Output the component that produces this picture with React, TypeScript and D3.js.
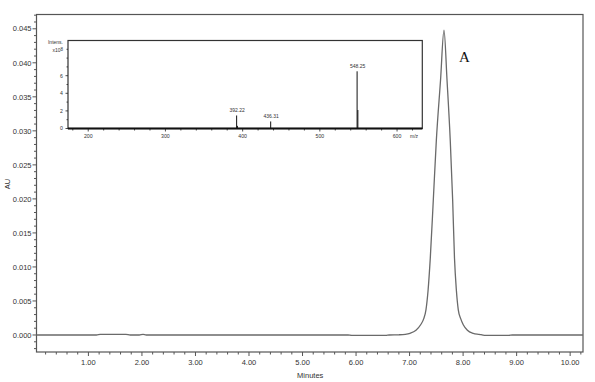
import React from "react";
import * as d3 from "d3";

// Chromatogram (UV trace), time in minutes and absorbance in AU
const chromTime = [0.03, 0.5, 1.15, 1.22, 1.7, 1.78, 1.95, 2.02, 2.08, 3.0, 4.0, 5.0, 5.85, 5.92, 6.55, 6.62, 6.8, 6.92, 7.007, 7.12, 7.207, 7.265, 7.306, 7.345, 7.387, 7.443, 7.5, 7.578, 7.643, 7.7, 7.76, 7.805, 7.839, 7.875, 7.91, 7.955, 8.003, 8.08, 8.19, 8.3, 8.4, 8.85, 8.92, 10.24];
const chromAU = [0.0, 0.0, 0.0, 0.0001, 0.0001, 0.0, 0.0, 0.0001, 0.0, 0.0, 0.0, 0.0, 0.0, -0.00005, -0.00005, 0.0, 0.00003, 0.0001, 0.00025, 0.0007, 0.0015, 0.0024, 0.0037, 0.0065, 0.0113, 0.0198, 0.0286, 0.0374, 0.0448, 0.0374, 0.0286, 0.0198, 0.0113, 0.0065, 0.0037, 0.0024, 0.0015, 0.0007, 0.00025, 0.0001, -0.00005, -0.00005, 0.0, 0.0];

const xTickValues = [1, 2, 3, 4, 5, 6, 7, 8, 9, 10];
const yTickValues = [0, 0.005, 0.01, 0.015, 0.02, 0.025, 0.03, 0.035, 0.04, 0.045];

// Mass spectrum inset (m/z, intensity x10^8)
const mzValues = [392.22, 393.2, 436.31, 548.25, 549.25];
const mzIntensity = [1.48, 0.3, 0.8, 6.5, 2.1];
const mzLabels = ["392.22", "", "436.31", "548.25", ""];
const msXTicks = [200, 300, 400, 500, 600];
const msYTicks = [0, 2, 4, 6];

const peakLabel = "A";

export default function App() {
  const W = 595, H = 382;
  const left = 36.5, right = 583, top = 14.5, bottom = 352;
  const x = d3.scaleLinear().domain([0.03, 10.24]).range([left, right]);
  const y = d3.scaleLinear().domain([-0.0025, 0.0471]).range([bottom, top]);

  const pts: [number, number][] = chromTime.map((t, i) => [t, chromAU[i]]);
  const line = d3.line<[number, number]>().x(d => x(d[0])).y(d => y(d[1])).curve(d3.curveMonotoneX);

  const xMinor = d3.range(0.2, 10.21, 0.2).filter(v => Math.abs(v - Math.round(v)) > 0.01);
  const yMinor = d3.range(-0.002, 0.0471, 0.001).filter(v => yTickValues.every(t => Math.abs(t - v) > 1e-6));

  // inset
  const iL = 68, iR = 422.3, iT = 40.5, iB = 128.5;
  const mx = d3.scaleLinear().domain([173.8, 632.7]).range([iL, iR]);
  const my = d3.scaleLinear().domain([0, 10]).range([iB, iT]);
  const msXMinor = d3.range(180, 631, 20).filter(v => v % 100 !== 0);
  const msYMinor = [1, 3, 5, 7, 8, 9];

  const axisColor = "#555";
  const textColor = "#333";
  const font = "Liberation Sans, Arial, sans-serif";

  return (
    <svg width={W} height={H} style={{ position: "absolute", left: 0, top: 0, background: "#fff" }} fontFamily={font}>
      <rect x={0} y={0} width={W} height={H} fill="#fff" />
      {/* frame */}
      <rect x={left} y={top} width={right - left} height={bottom - top} fill="none" stroke={axisColor} strokeWidth={1.2} />
      {/* x ticks */}
      {xMinor.map(v => (
        <line key={"xm" + v} x1={x(v)} x2={x(v)} y1={bottom} y2={bottom + 2.5} stroke={axisColor} strokeWidth={1} />
      ))}
      {xTickValues.map(v => (
        <g key={"xt" + v}>
          <line x1={x(v)} x2={x(v)} y1={bottom} y2={bottom + 4} stroke={axisColor} strokeWidth={1} />
          <text x={x(v)} y={365} textAnchor="middle" fontSize={7.5} fill={textColor}>{v.toFixed(2)}</text>
        </g>
      ))}
      <text x={(left + right) / 2 + 0.5} y={378} textAnchor="middle" fontSize={7.5} fill={textColor}>Minutes</text>
      {/* y ticks */}
      {yMinor.map(v => (
        <line key={"ym" + v} x1={left - 2.5} x2={left} y1={y(v)} y2={y(v)} stroke={axisColor} strokeWidth={1} />
      ))}
      {yTickValues.map(v => (
        <g key={"yt" + v}>
          <line x1={left - 4} x2={left} y1={y(v)} y2={y(v)} stroke={axisColor} strokeWidth={1} />
          <text x={31.5} y={y(v) + 2.7} textAnchor="end" fontSize={7.5} fill={textColor}>{v.toFixed(3)}</text>
        </g>
      ))}
      <text transform={`translate(10,184) rotate(-90)`} textAnchor="middle" fontSize={7.5} fill={textColor}>AU</text>

      {/* chromatogram */}
      <path d={line(pts) || ""} fill="none" stroke="#6a6a6a" strokeWidth={1.3} />
      <text x={459} y={62} fontFamily="Liberation Serif, Times New Roman, serif" fontSize={15} fill="#111">{peakLabel}</text>

      {/* inset mass spectrum */}
      <rect x={iL} y={iT} width={iR - iL} height={iB - iT} fill="#fff" stroke="#333" strokeWidth={1.2} />
      {msXMinor.map(v => (
        <line key={"mxm" + v} x1={mx(v)} x2={mx(v)} y1={iB} y2={iB + 2} stroke="#222" strokeWidth={0.8} />
      ))}
      {msXTicks.map(v => (
        <g key={"mxt" + v}>
          <line x1={mx(v)} x2={mx(v)} y1={iB} y2={iB + 3} stroke="#222" strokeWidth={0.8} />
          <text x={mx(v)} y={138} textAnchor="middle" fontSize={5.2} fill={textColor}>{v}</text>
        </g>
      ))}
      <text x={414} y={137.5} textAnchor="middle" fontSize={5} fill={textColor}>m/z</text>
      {msYMinor.map(v => (
        <line key={"mym" + v} x1={iL - 1.5} x2={iL} y1={my(v)} y2={my(v)} stroke="#222" strokeWidth={0.8} />
      ))}
      {msYTicks.map(v => (
        <g key={"myt" + v}>
          <line x1={iL - 2.5} x2={iL} y1={my(v)} y2={my(v)} stroke="#222" strokeWidth={0.8} />
          <text x={63} y={my(v) + 1.8} textAnchor="end" fontSize={5.2} fill={textColor}>{v}</text>
        </g>
      ))}
      <text x={63} y={44} textAnchor="end" fontSize={5} fill={textColor}>Intens.</text>
      <text x={63} y={52} textAnchor="end" fontSize={5} fill={textColor}>x10<tspan fontSize={4.5} dy={-1.5}>8</tspan></text>
      {mzValues.map((m, i) => (
        <g key={"pk" + i}>
          <line x1={mx(m)} x2={mx(m)} y1={my(0)} y2={my(mzIntensity[i])} stroke="#111" strokeWidth={1} />
          {mzLabels[i] && (
            <text x={mx(m) + 0.5} y={my(mzIntensity[i]) - 3} textAnchor="middle" fontSize={5} fill={textColor}>{mzLabels[i]}</text>
          )}
        </g>
      ))}
      <line x1={iL} x2={iR} y1={iB} y2={iB} stroke="#111" strokeWidth={2} />
    </svg>
  );
}
